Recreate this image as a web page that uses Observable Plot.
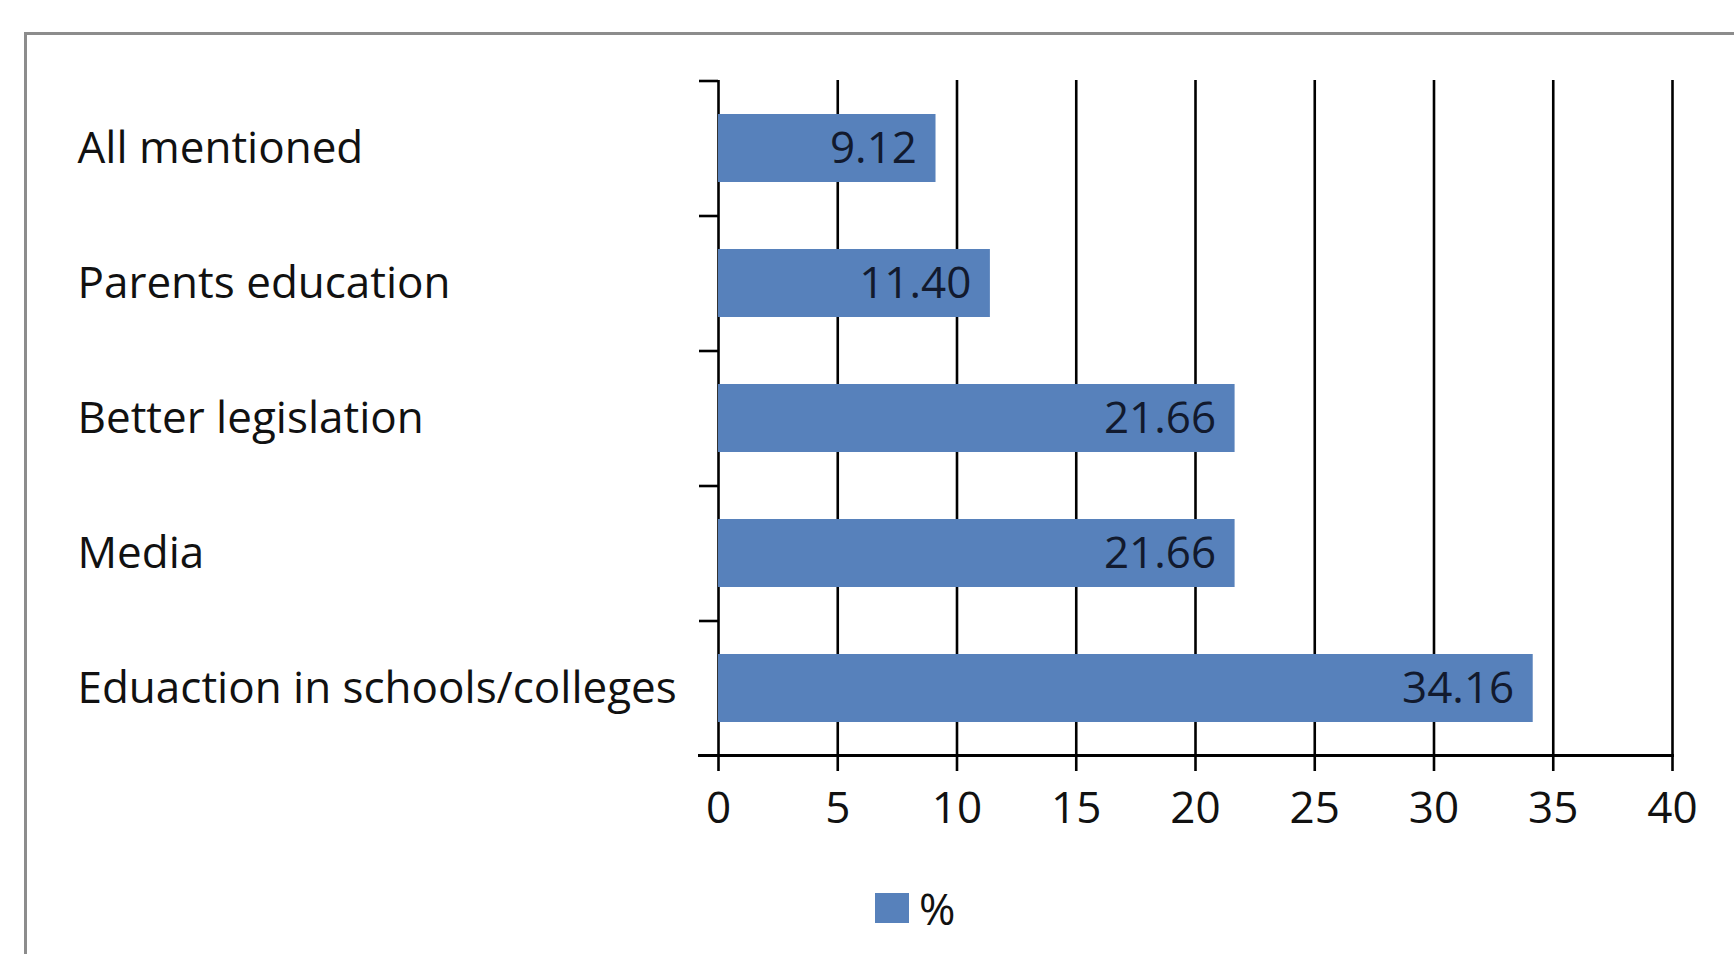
<!DOCTYPE html>
<html>
<head>
<meta charset="utf-8">
<script src="https://cdn.jsdelivr.net/npm/d3@7"></script>
<script src="https://cdn.jsdelivr.net/npm/@observablehq/plot@0.6"></script>
<style>
  html, body { margin: 0; padding: 0; background: #fff; overflow: hidden; width: 1734px; height: 954px; }
  #frame { position: absolute; left: 24px; top: 32px; width: 1800px; height: 1000px;
           border-left: 3px solid #8c8c8c; border-top: 3px solid #8c8c8c; }
  #chart { position: absolute; left: 0; top: 0; }
  #legend { position: absolute; left: 875px; top: 878px; display: flex; align-items: center;
            font-family: "Open Sans", sans-serif; font-size: 44px; color: #111; }
  #legend .sw { width: 34px; height: 30px; background: #5781bb; margin-right: 10px; }
</style>
</head>
<body>
<div id="frame"></div>
<div id="chart"></div>
<div id="legend"><span class="sw"></span><span id="legend-label"></span></div>
<script>
const categories = ["All mentioned", "Parents education", "Better legislation", "Media", "Eduaction in schools/colleges"];
const values = [9.12, 11.40, 21.66, 21.66, 34.16];
const valueLabels = ["9.12", "11.40", "21.66", "21.66", "34.16"];
const xTicks = [0, 5, 10, 15, 20, 25, 30, 35, 40];
const seriesName = "%";

const data = categories.map((c, i) => ({category: c, value: values[i], label: valueLabels[i]}));

const barColor = "#5781bb";
const halfStep = 67.5;
const fs = 44;

const chart = Plot.plot({
  width: 1734,
  height: 860,
  marginLeft: 718,
  marginRight: 62,
  marginTop: 80,
  marginBottom: 105,
  style: {fontFamily: "'Open Sans', sans-serif", fontSize: fs + "px", color: "#111", background: "transparent"},
  x: {domain: [0, 40], ticks: xTicks},
  y: {domain: categories, paddingInner: 0.5, paddingOuter: 0.25},
  marks: [
    Plot.ruleX(xTicks, {x: d => d, stroke: "#000", strokeWidth: 2.6, insetBottom: -16}),
    Plot.ruleY(data, {y: "category", x1: 0, x2: 0, dy: -halfStep, insetLeft: -19, stroke: "#000", strokeWidth: 2.6}),
    Plot.frame({anchor: "bottom", stroke: "#000", strokeWidth: 3, insetLeft: -19}),
    Plot.barX(data, {x: "value", y: "category", fill: barColor}),
    Plot.text(data, {x: "value", y: "category", text: "label", textAnchor: "end", dx: -19, fill: "#121a2e", fontSize: fs}),
    Plot.axisY({tickSize: 0, tickPadding: 641, textAnchor: "start", label: null, fontSize: fs, fill: "#111"}),
    Plot.axisX({ticks: xTicks, tickSize: 0, tickPadding: 36, label: null, fontSize: fs, fill: "#111"})
  ]
});
document.getElementById("chart").appendChild(chart);
document.getElementById("legend-label").textContent = seriesName;
</script>
</body>
</html>
